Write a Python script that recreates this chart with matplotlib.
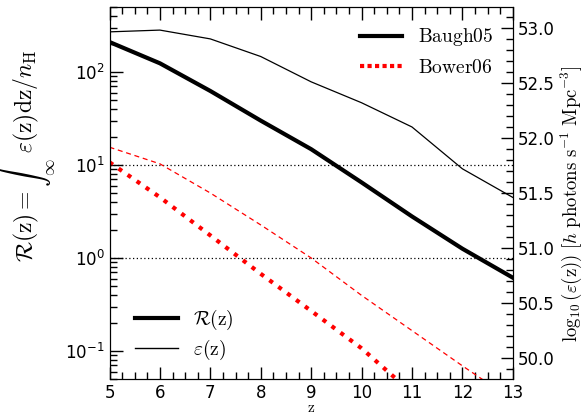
"""
Reionisation ratio R(z) and ionising emissivity for two galaxy formation models
"""

import matplotlib
matplotlib.use('Agg')
import matplotlib.pyplot as plt
from matplotlib.lines import Line2D
from matplotlib.ticker import MultipleLocator, LogLocator, NullFormatter

plt.rcParams['mathtext.fontset'] = 'cm'

# Redshift grid
z = [5, 6, 7, 8, 9, 10, 11, 12, 13]

# R(z) = cumulative photons per hydrogen atom
r_baugh = [210, 124, 62.5, 30, 14.8, 6.5, 2.8, 1.26, 0.615]
r_bower = [10.7, 4.5, 1.75, 0.676, 0.27, 0.107, 0.0355, 0.012, 0.004]

# log10 emissivity [h photons s^-1 Mpc^-3]
eps_baugh = [52.964, 52.98, 52.90, 52.74, 52.51, 52.32, 52.10, 51.72, 51.46]
eps_bower = [51.916, 51.765, 51.50, 51.21, 50.91, 50.57, 50.25, 49.93, 49.62]

# Reference levels
ref_levels = [10, 1]

fig = plt.figure(figsize=(5.84, 4.13), dpi=100)
ax = fig.add_axes([0.1875, 0.0823, 0.6905, 0.9008])
ax2 = ax.twinx()

# R(z) on the left (log) axis
ax.plot(z, r_baugh, color='black', lw=3)
ax.plot(z, r_bower, color='red', lw=3, linestyle=':')
for lev in ref_levels:
    ax.axhline(lev, color='black', lw=0.9, linestyle=(0, (1, 2)))

ax.set_yscale('log')
ax.set_xlim(5, 13)
ax.set_ylim(0.05, 500)
ax.xaxis.set_major_locator(MultipleLocator(1))
ax.xaxis.set_minor_locator(MultipleLocator(0.25))
ax.yaxis.set_major_locator(LogLocator(base=10, numticks=10))
ax.yaxis.set_minor_locator(LogLocator(base=10, subs=range(2, 10), numticks=10))
ax.yaxis.set_minor_formatter(NullFormatter())
ax.tick_params(which='both', direction='in', top=True, labelsize=12, width=1)
ax.tick_params(which='major', length=9)
ax.tick_params(which='minor', length=5)
ax.set_xlabel(r'$\mathrm{z}$', fontsize=11, labelpad=-1.5)
ax.set_ylabel(r'$\mathcal{R}(\mathrm{z}) = \int_{\infty}^{z}\varepsilon(\mathrm{z})\mathrm{dz}/n_{\mathrm{H}}$',
              fontsize=17)
ax.yaxis.set_label_coords(-0.13, 0.6)

# emissivity on the right (linear in log10) axis
ax2.plot(z, eps_baugh, color='black', lw=0.9)
ax2.plot(z, eps_bower, color='red', lw=0.9, dashes=(4, 3))
ax2.set_ylim(49.81, 53.19)
ax2.yaxis.set_major_locator(MultipleLocator(0.5))
ax2.yaxis.set_minor_locator(MultipleLocator(0.1))
ax2.tick_params(which='both', direction='in', labelsize=12, width=1)
ax2.tick_params(which='major', length=9)
ax2.tick_params(which='minor', length=5)
ax2.set_ylabel(r'$\log_{10}(\varepsilon(\mathrm{z}))\ [h\ \mathrm{photons\ s^{-1}\ Mpc^{-3}}]$',
               fontsize=13.5)
ax2.yaxis.set_label_coords(1.115, 0.47)

# model legend
model_handles = [Line2D([], [], color='black', lw=3),
                 Line2D([], [], color='red', lw=3, linestyle=(0, (1, 0.8)))]
leg1 = ax2.legend(model_handles, [r'$\mathrm{Baugh05}$', r'$\mathrm{Bower06}$'],
                  loc='upper right', frameon=False, fontsize=14,
                  handlelength=2.2, borderaxespad=0.6, labelspacing=0.5)
ax2.add_artist(leg1)

# quantity legend
qty_handles = [Line2D([], [], color='black', lw=3),
               Line2D([], [], color='black', lw=1)]
ax2.legend(qty_handles, [r'$\mathcal{R}(\mathrm{z})$', r'$\varepsilon(\mathrm{z})$'],
           loc='lower left', bbox_to_anchor=(0.02, 0.0), frameon=False, fontsize=14,
           handlelength=2.2, labelspacing=0.3)

fig.savefig('out.png', dpi=100)
